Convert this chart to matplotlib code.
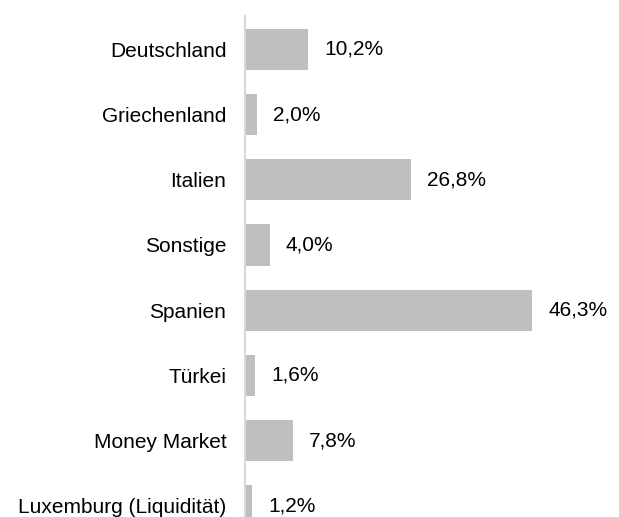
import matplotlib
matplotlib.use('Agg')
import matplotlib.pyplot as plt

laender = ['Deutschland', 'Griechenland', 'Italien', 'Sonstige', 'Spanien',
           'Türkei', 'Money Market', 'Luxemburg (Liquidität)']
anteile = [10.2, 2.0, 26.8, 4.0, 46.3, 1.6, 7.8, 1.2]

plt.rcParams['font.family'] = ['Liberation Sans', 'DejaVu Sans']

fig = plt.figure(figsize=(6.19, 5.17), dpi=100)
ax = fig.add_axes([245 / 619, 0.0, 310 / 619, 1 - 16 / 517])

pos = list(range(len(laender)))
ax.barh(pos, anteile, height=0.63, color='#bfbfbf')

for y, v in zip(pos, anteile):
    ax.annotate(f'{v:.1f}%'.replace('.', ','), (v, y), xytext=(11.5, 0),
                textcoords='offset points', va='center', ha='left',
                fontsize=15, color='#000000', annotation_clip=False)

ax.set_xlim(0, 50)
ax.set_ylim(7.17, -0.51)
ax.set_yticks(pos)
ax.set_yticklabels(laender, fontsize=15)
ax.tick_params(axis='y', length=0, pad=13.5)
ax.set_xticks([])

for s in ['top', 'right', 'bottom']:
    ax.spines[s].set_visible(False)
ax.spines['left'].set_color('#d9d9d9')
ax.spines['left'].set_linewidth(1.5)

fig.savefig('out.png', dpi=100)
